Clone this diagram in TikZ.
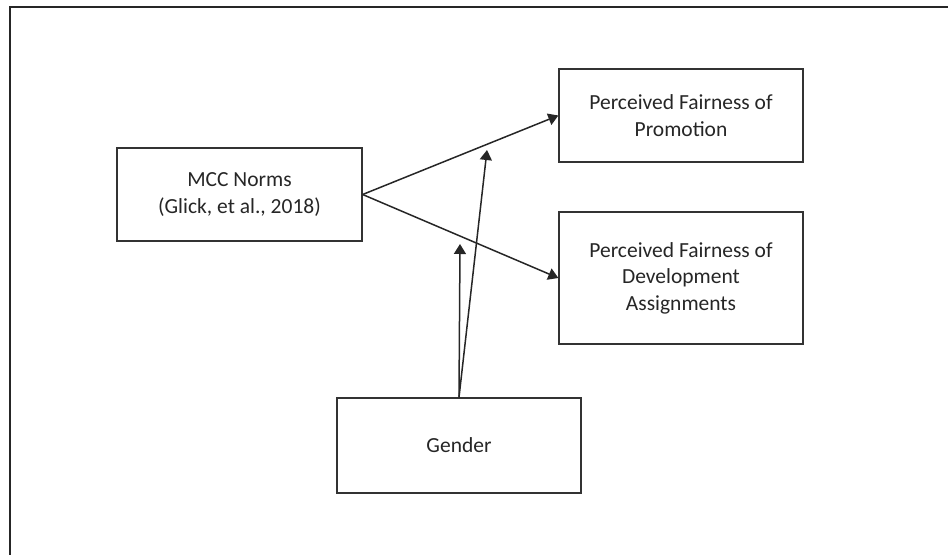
\documentclass[tikz,border=0pt]{standalone}
\usepackage{fontspec}
\setmainfont{Carlito}
\usetikzlibrary{arrows.meta}
\begin{document}
\begin{tikzpicture}[x=1pt,y=-1pt,
  box/.style={draw=black!80, line width=1.3pt, minimum width=#1, align=center, inner sep=0pt,
    font=\fontsize{21.5pt}{26.5pt}\selectfont, text=black!85},
  conn/.style={line width=1.5pt, draw=black!85, -{Triangle[length=10pt,width=12pt]}}]
\useasboundingbox (0,0) rectangle (948,555);
\draw[line width=2pt, black!85] (948,7) -- (10,7) -- (10,555);
\node[box=245pt, minimum height=93pt] (mcc) at (239.5,194.5) {MCC Norms\\(Glick, et al., 2018)};
\node[box=244pt, minimum height=93pt] (prom) at (681,115.5) {Perceived Fairness of\\Promotion};
\node[box=244pt, minimum height=132pt] (dev) at (681,278) {Perceived Fairness of\\Development\\Assignments};
\node[box=244pt, minimum height=95pt] (gen) at (459,445.5) {Gender};
\coordinate (t1) at (460,244);
\coordinate (t2) at (487,150);
\draw[conn] (mcc.east) -- (prom.west);
\draw[conn] (mcc.east) -- (dev.west);
\draw[conn] (gen.north) -- (t1);
\draw[conn] (gen.north) -- (t2);
\end{tikzpicture}
\end{document}
